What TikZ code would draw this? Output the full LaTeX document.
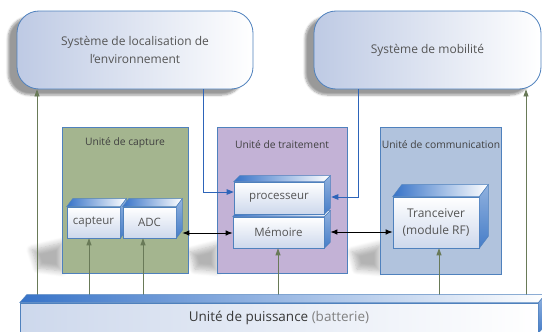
\documentclass[tikz,border=0pt]{standalone}
\usepackage{fontspec}
\setmainfont{Open Sans}
\usetikzlibrary{arrows.meta,calc,shadows.blur}

\definecolor{bord}{RGB}{79,129,189}
\definecolor{tb}{RGB}{190,202,228}
\definecolor{txt}{RGB}{85,85,85}
\definecolor{greenu}{RGB}{164,181,143}
\definecolor{purpu}{RGB}{195,178,214}
\definecolor{blueu}{RGB}{177,195,221}
\definecolor{olive}{RGB}{105,122,88}
\definecolor{lineblue}{RGB}{45,100,185}
\definecolor{cfront}{RGB}{205,216,236}
\definecolor{ctop}{RGB}{55,115,200}
\definecolor{cside}{RGB}{70,125,200}

\tikzset{
  topbox/.style={draw=bord, line width=0.8pt, rounded corners=22pt, left color=tb, right color=white,
    align=center, text=txt, font=\fontsize{12}{18}\selectfont, inner sep=0pt,
    blur shadow={shadow xshift=-9pt, shadow yshift=-6pt, shadow opacity=40, shadow blur steps=6}},
  unitbox/.style={draw=bord, line width=0.7pt, inner sep=0pt},
  unitlbl/.style={text=black!75, font=\fontsize{10.3}{12}\selectfont, inner sep=0pt},
  cubefront/.style={draw=bord, line width=0.6pt, top color=white, bottom color=cfront, inner sep=0pt,
    text=txt, align=center, font=\fontsize{11.5}{13}\selectfont},
  cubetop/.style={left color=ctop, right color=white, draw=bord, line width=0.5pt},
  cubeside/.style={top color=cside!60, bottom color=cside, draw=bord, line width=0.5pt},
  pw/.style={draw=olive, line width=0.8pt, -{Triangle[length=7pt,width=5pt]}},
  bl/.style={draw=lineblue, line width=0.8pt, -{Triangle[length=7pt,width=5.5pt]}},
  bk/.style={draw=black, line width=1pt, {Latex[length=7pt,width=5.5pt]}-{Latex[length=7pt,width=5.5pt]}},
  ushadow/.style={blur shadow={shadow xshift=0pt, shadow yshift=0pt, shadow opacity=30, shadow blur radius=6pt, shadow blur steps=8}},
}

\newcommand{\cubeblock}[9]{%
  \node[cubefront, minimum width=#4, minimum height=#5, #9] (#1) at (#2,#3) {#8};
  \shade[cubetop] (#1.north west) -- ++(#6,-#7) -- ($(#1.north east)+(#6,-#7)$) -- (#1.north east) -- cycle;
  \shade[cubeside] (#1.north east) -- ++(#6,-#7) -- ($(#1.south east)+(#6,-#7)$) -- (#1.south east) -- cycle;
}

\begin{document}
\begin{tikzpicture}[x=1pt,y=-1pt]
\useasboundingbox (0,0) rectangle (542,332);
\clip (0,0) rectangle (542,332);

% top systems
\node[topbox, minimum width=236, minimum height=78] (loc) at (135,50) {Système de localisation de\\l'environnement};
\node[topbox, minimum width=227, minimum height=78] (mob) at (427.5,50) {Système de mobilité};

% shadows of units
\path[ushadow] (32,250) -- (62,243) -- (62,271) -- (38,268) -- cycle;
\path[ushadow] (190,252) -- (217,245) -- (217,271) -- (195,269) -- cycle;
\path[ushadow] (352,252) -- (380,245) -- (380,271) -- (357,269) -- cycle;

% units
\node[unitbox, fill=greenu, minimum width=126, minimum height=146] (cap) at (125,200) {};
\node[unitbox, fill=purpu, minimum width=130, minimum height=146] (trt) at (282,200.5) {};
\node[unitbox, fill=blueu, minimum width=121, minimum height=147] (com) at (440.5,200.5) {};
\node[unitlbl] (capl) at (125,143) {Unité de capture};
\node[unitlbl] (trtl) at (282,145) {Unité de traitement};
\node[unitlbl] (coml) at (441,145) {Unité de communication};

% power connectors
\coordinate (p1) at (37,300);
\coordinate (p2) at (89,300);
\coordinate (p3) at (143,300);
\coordinate (p4) at (278,300);
\coordinate (p5) at (439,300);
\coordinate (p6) at (526,300);

% blocks
\cubeblock{capt}{93.5}{222.5}{53}{31}{6}{8}{capteur}{}
\cubeblock{adc}{149.5}{222.5}{53}{31}{6}{8}{ADC}{}
\cubeblock{mem}{278.5}{232.5}{91}{31}{6}{6}{Mémoire}{}
\cubeblock{proc}{279}{198}{90}{32}{6}{6}{processeur}{}
\cubeblock{trx}{436}{222.5}{86}{51}{9}{12}{Tranceiver\\(module RF)}{font=\fontsize{12}{17}\selectfont}

\draw[pw] (p1) -- (p1 |- loc.south);
\draw[pw] (p6) -- (p6 |- mob.south);
\draw[pw] (p2) -- (p2 |- capt.south);
\draw[pw] (p3) -- (p3 |- adc.south);
\draw[pw] (p4) -- (p4 |- mem.south);
\draw[pw] (p5) -- (p5 |- trx.south);

% control lines
\coordinate (c1) at (203,192);
\coordinate (c2) at (358,197);
\draw[bl] (c1 |- loc.south) |- (proc.west |- c1);
\draw[bl] (c2 |- mob.south) |- ($(proc.east |- c2)+(7,0)$);

% data links
\coordinate (c3) at (0,233);
\coordinate (c4) at (0,232);
\draw[bk] ($(adc.east |- c3)+(6,0)$) -- (mem.west |- c3);
\draw[bk] ($(mem.east |- c4)+(6,0)$) -- (trx.west |- c4);

% power bar
\node[draw=bord, line width=0.6pt, left color=cfront, right color=white, minimum width=518, minimum height=30, inner sep=0pt,
  font=\fontsize{13.5}{15}\selectfont, text=black!78] (bar) at (279,318) {\raisebox{2pt}{Unité de puissance \textcolor{black!50}{(batterie)}}};
\shade[cubetop] (bar.north west) -- ++(7,-8) -- ($(bar.north east)+(7,-8)$) -- (bar.north east) -- cycle;
\shade[cubeside] (bar.north east) -- ++(7,-8) -- ($(bar.south east)+(7,-8)$) -- (bar.south east) -- cycle;
\end{tikzpicture}
\end{document}
